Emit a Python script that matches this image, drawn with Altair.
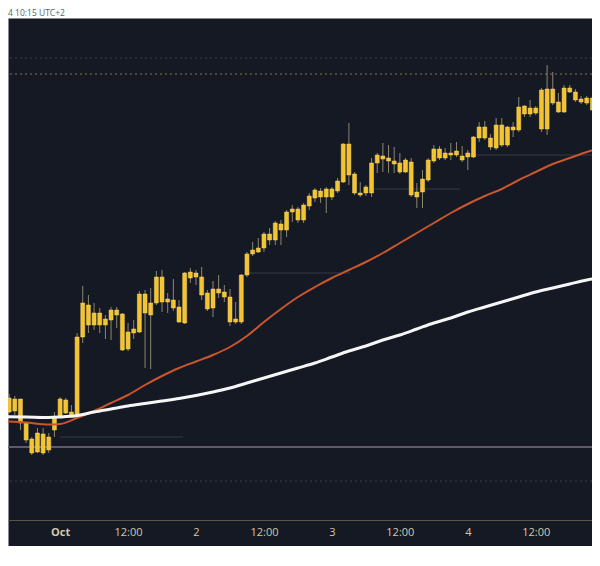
import json
import altair as alt
import pandas as pd

# ---- candle data (hourly, hour 0 = Oct 1 00:00) ----
hours = list(range(-11, 96))
open_ = [61020, 61200, 61060, 61070, 61190, 60950, 60790, 60660, 60840, 60680,
         60880, 61010, 61180, 61060, 61010, 61810, 62130, 61930, 62050, 61930,
         61980, 62080, 62040, 61690, 61850, 61860, 62240, 62030, 62150, 62410,
         62160, 62180, 62110, 61950, 62400, 62450, 62410, 62250, 62100, 62290,
         62260, 62210, 61960, 61960, 62430, 62640, 62660, 62700, 62840, 62780,
         62940, 62880, 63060, 63090, 62980, 63120, 63200, 63270, 63210, 63290,
         63270, 63360, 63740, 63440, 63250, 63250, 63250, 63550, 63620, 63600,
         63570, 63550, 63460, 63560, 63260, 63260, 63380, 63570, 63690, 63600,
         63650, 63630, 63620, 63610, 63610, 63800, 63910, 63800, 63700, 63930,
         63730, 63910, 63880, 64120, 64040, 64100, 64280, 63890, 64290, 64160,
         64060, 64300, 64260, 64190, 64150, 64200, 64130]
high = [61220, 61220, 61240, 61220, 61190, 60950, 60810, 60900, 60900, 60850,
        61060, 61210, 61200, 61130, 61850, 62320, 62230, 62150, 62100, 62030,
        62110, 62110, 62050, 61950, 61980, 62270, 62280, 62300, 62470, 62480,
        62250, 62390, 62180, 62460, 62500, 62480, 62510, 62280, 62370, 62430,
        62330, 62290, 62160, 62440, 62660, 62760, 62800, 62860, 62900, 62970,
        62980, 63080, 63130, 63110, 63150, 63250, 63300, 63300, 63310, 63310,
        63400, 63750, 63950, 63460, 63360, 63330, 63600, 63650, 63750, 63730,
        63710, 63650, 63600, 63600, 63350, 63480, 63600, 63730, 63720, 63700,
        63750, 63760, 63720, 63680, 63820, 63960, 63970, 63840, 64000, 64000,
        63920, 63960, 64210, 64130, 64180, 64120, 64300, 64530, 64460, 64250,
        64330, 64330, 64290, 64220, 64220, 64220, 64160]
low = [60980, 61000, 61050, 61030, 60880, 60750, 60630, 60650, 60630, 60650,
       60810, 61000, 61040, 61010, 61010, 61750, 61850, 61880, 61850, 61790,
       61780, 61900, 61670, 61670, 61790, 61850, 61500, 61490, 62130, 62060,
       62050, 62070, 61950, 61940, 62350, 62330, 62180, 62070, 62010, 62200,
       62160, 61920, 61940, 61940, 62410, 62620, 62650, 62660, 62730, 62730,
       62730, 62810, 62960, 62950, 62950, 63080, 63160, 63150, 63050, 63180,
       63250, 63350, 63330, 63230, 63210, 63220, 63210, 63450, 63460, 63450,
       63450, 63440, 63450, 63210, 63100, 63100, 63360, 63550, 63580, 63580,
       63580, 63610, 63560, 63480, 63600, 63760, 63780, 63680, 63680, 63710,
       63710, 63810, 63860, 64010, 64010, 64030, 63860, 63830, 64130, 64050,
       64050, 64250, 64160, 64140, 64130, 64060, 64000]
close = [61200, 61010, 61200, 61190, 60950, 60780, 60650, 60850, 60650, 60810,
         61000, 61190, 61050, 61010, 61810, 62150, 61930, 62050, 61930, 61990,
         62080, 62030, 61680, 61860, 61890, 62240, 62050, 62150, 62410, 62160,
         62190, 62100, 61960, 62450, 62460, 62410, 62230, 62090, 62290, 62250,
         62210, 61960, 61990, 62430, 62640, 62680, 62700, 62840, 62780, 62950,
         62880, 63060, 63090, 62980, 63130, 63220, 63280, 63210, 63290, 63210,
         63370, 63740, 63430, 63250, 63230, 63310, 63550, 63630, 63590, 63570,
         63540, 63460, 63580, 63230, 63210, 63390, 63580, 63690, 63600, 63650,
         63630, 63670, 63580, 63650, 63810, 63910, 63800, 63710, 63930, 63730,
         63910, 63880, 64110, 64040, 64100, 64050, 63890, 64290, 64150, 64060,
         64300, 64260, 64180, 64160, 64200, 64080, 64010]

# ---- moving averages ----
ma_hours = [-11, -6, -2, 0, 3, 6, 9, 12, 15, 18, 21, 24, 27, 30, 33, 36, 39, 42,
            45, 48, 51, 54, 57, 60, 63, 66, 69, 72, 75, 78, 81, 84, 87, 90, 93, 96]
ma_fast = [60970, 60955, 60935, 60940, 61000, 61070, 61150, 61230, 61330, 61420,
           61500, 61565, 61630, 61710, 61820, 61960, 62090, 62210, 62310, 62400,
           62480, 62560, 62650, 62750, 62850, 62950, 63050, 63140, 63220, 63290,
           63380, 63460, 63540, 63600, 63660, 63710]
ma_slow = [61015, 61010, 61005, 61010, 61025, 61060, 61090, 61120, 61145, 61170,
           61195, 61225, 61260, 61300, 61350, 61400, 61450, 61500, 61550, 61610,
           61670, 61720, 61780, 61830, 61890, 61950, 62000, 62060, 62110, 62160,
           62210, 62260, 62300, 62340, 62380, 62410]

# ---- horizontal levels ----
dotted_levels = [64600, 64440, 60370]
dotted_kind = ["grey", "amber", "grey"]
solid_level = [60710]
short_levels = [63630, 63290, 62450, 60810]
short_start = [71.5, 55.1, 32.6, 0.0]
short_end = [95.34, 70.6, 51.2, 21.7]

# ---- x-axis ticks ----
tick_hours = [0, 12, 24, 36, 48, 60, 72, 84]
tick_labels = ["Oct", "12:00", "2", "12:00", "3", "12:00", "4", "12:00"]

header_text = ["4 10:15 UTC+2"]

candles = pd.DataFrame({"hour": hours, "open": open_, "high": high,
                        "low": low, "close": close})
ma = pd.DataFrame({"hour": ma_hours, "fast": ma_fast, "slow": ma_slow})

xscale = alt.Scale(domain=[-9.2, 93.93], nice=False, zero=False, padding=0)
yscale = alt.Scale(domain=[59720, 65000], nice=False, zero=False, padding=0)

label_expr = f"{json.dumps(tick_labels)}[indexof({json.dumps(tick_hours)}, datum.value)]"

xaxis = alt.Axis(
    values=tick_hours, labelExpr=label_expr, offset=-26,
    domain=True, domainColor="#57544c", domainWidth=1,
    ticks=False, grid=False, labelColor="#d4c9a8", labelFont="Open Sans",
    labelFontSize=11, labelPadding=6, labelOverlap=False, labelFlush=False,
    labelFontWeight={"condition": {"test": "datum.value === 0", "value": "bold"},
                     "value": "normal"},
    title="",
)


def X(field="hour"):
    return alt.X(f"{field}:Q", scale=xscale, axis=xaxis)


def Y(field):
    return alt.Y(f"{field}:Q", scale=yscale, axis=None)


lv_dot = alt.Chart(pd.DataFrame({"p": dotted_levels, "k": dotted_kind})).mark_rule(
    strokeDash=[2, 3], strokeWidth=1, clip=True
).encode(
    y=Y("p"),
    color=alt.Color("k:N", scale=alt.Scale(domain=["grey", "amber"],
                                           range=["#3a3e4b", "#8a7550"]),
                    legend=None),
)

lv_solid = alt.Chart(pd.DataFrame({"p": solid_level})).mark_rule(
    color="#62596a", strokeWidth=2, clip=True
).encode(y=Y("p"))

lv_short = alt.Chart(pd.DataFrame({"p": short_levels, "s": short_start, "e": short_end})).mark_rule(
    color="#363a47", strokeWidth=1, clip=True
).encode(x=X("s"), x2="e:Q", y=Y("p"))

wicks = alt.Chart(candles).mark_rule(color="#8c8670", strokeWidth=1, clip=True).encode(
    x=X(), y=Y("low"), y2="high:Q"
)

bodies = alt.Chart(candles).mark_bar(
    width=4, color="#f4c430", stroke="#f9d463", strokeWidth=0.5, clip=True
).encode(x=X(), y=Y("open"), y2="close:Q")

fast = alt.Chart(ma).mark_line(color="#c9562c", strokeWidth=2, interpolate="monotone", clip=True).encode(
    x=X(), y=Y("fast")
)
slow = alt.Chart(ma).mark_line(color="#f6f6f6", strokeWidth=3, interpolate="monotone", clip=True).encode(
    x=X(), y=Y("slow")
)

header = alt.Chart(pd.DataFrame({"t": header_text})).mark_text(
    align="left", baseline="top", fontSize=8.5, font="Open Sans", color="#5c5f66"
).encode(x=alt.value(0), y=alt.value(-9.5), text="t:N")

chart = alt.layer(lv_dot, lv_solid, lv_short, wicks, bodies, fast, slow, header).properties(
    width=584, height=528,
    autosize=alt.AutoSizeParams(type="none"),
    padding={"left": 0, "top": 10, "right": 0, "bottom": 0},
).configure(background="#ffffff").configure_view(fill="#151924", stroke="transparent")

chart.save("out.html", embed_options={"renderer": "svg", "actions": False})
